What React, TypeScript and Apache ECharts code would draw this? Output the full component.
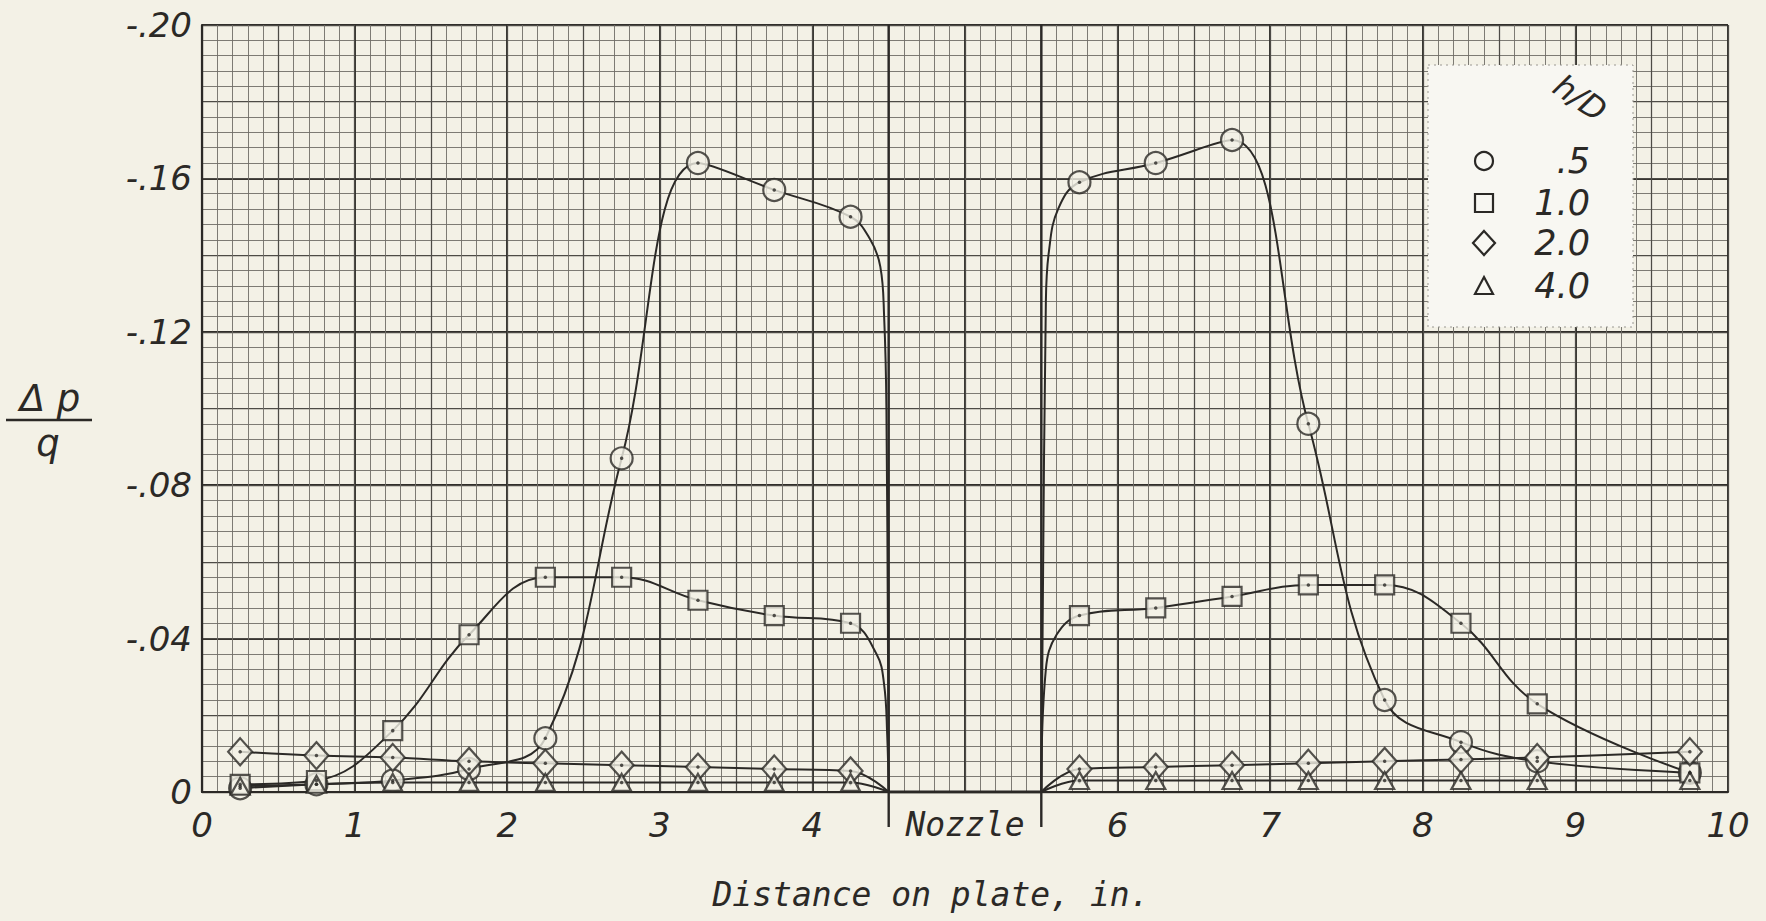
import { useEffect, useRef } from 'react';
import * as echarts from 'echarts';

// ---- data ----
const xLeft = [0.25, 0.75, 1.25, 1.75, 2.25, 2.75, 3.25, 3.75, 4.25];
const xRight = [5.75, 6.25, 6.75, 7.25, 7.75, 8.25, 8.75, 9.75];
const nozzleEdges = [4.5, 5.5];

const hd05Left = [-0.001, -0.002, -0.003, -0.006, -0.014, -0.087, -0.164, -0.157, -0.150];
const hd05Right = [-0.159, -0.164, -0.170, -0.096, -0.024, -0.013, -0.008, -0.005];
const hd10Left = [-0.002, -0.003, -0.016, -0.041, -0.056, -0.056, -0.050, -0.046, -0.044];
const hd10Right = [-0.046, -0.048, -0.051, -0.054, -0.054, -0.044, -0.023, -0.005];
const hd20Left = [-0.0105, -0.0095, -0.009, -0.008, -0.0075, -0.007, -0.0065, -0.006, -0.0055];
const hd20Right = [-0.006, -0.0065, -0.007, -0.0075, -0.008, -0.0085, -0.009, -0.0105];
const hd40Left = [-0.0015, -0.002, -0.0025, -0.0025, -0.0025, -0.0025, -0.0025, -0.0025, -0.0025];
const hd40Right = [-0.003, -0.003, -0.003, -0.003, -0.003, -0.003, -0.003, -0.003];

const hd05LeftEdgeX = [4.38, 4.445, 4.47, 4.485];
const hd05LeftEdgeY = [-0.144, -0.137, -0.124, -0.100];
const hd05RightEdgeX = [5.53, 5.55, 5.61];
const hd05RightEdgeY = [-0.128, -0.141, -0.152];
const hd10LeftEdgeX = [4.42, 4.47, 4.49];
const hd10LeftEdgeY = [-0.036, -0.028, -0.015];
const hd10RightEdgeX = [5.53, 5.6];
const hd10RightEdgeY = [-0.032, -0.041];

const legendLabels = ['.5', '1.0', '2.0', '4.0'];
const xTickValues = [0, 1, 2, 3, 4, 5, 6, 7, 8, 9, 10];
const xTickLabels = ['0', '1', '2', '3', '4', 'Nozzle', '6', '7', '8', '9', '10'];
const yTickValues = [-0.2, -0.16, -0.12, -0.08, -0.04, 0];
const yTickLabels = ['-.20', '-.16', '-.12', '-.08', '-.04', '0'];

// ---- styles ----
const PAPER = '#f3f1e6';
const INK = '#2b2926';
const NUM_FONT = '"DejaVu Sans"';
const LET_FONT = '"DejaVu Sans Mono"';

const zip = (xs: number[], ys: number[]) => xs.map((x, i) => [x, ys[i]]);

const groups = [
  { name: legendLabels[0], left: hd05Left, right: hd05Right, le: zip(hd05LeftEdgeX, hd05LeftEdgeY), re: zip(hd05RightEdgeX, hd05RightEdgeY), symbol: 'circle', size: 22 as any },
  { name: legendLabels[1], left: hd10Left, right: hd10Right, le: zip(hd10LeftEdgeX, hd10LeftEdgeY), re: zip(hd10RightEdgeX, hd10RightEdgeY), symbol: 'rect', size: 19 as any },
  { name: legendLabels[2], left: hd20Left, right: hd20Right, le: [], re: [], symbol: 'diamond', size: [24, 27] as any },
  { name: legendLabels[3], left: hd40Left, right: hd40Right, le: [], re: [], symbol: 'triangle', size: [19, 17] as any },
];

function pts(left: number[], right: number[]) {
  return [...zip(xLeft, left), ...zip(xRight, right)];
}
function curve(g: any) {
  return [
    ...zip(xLeft, g.left),
    ...g.le,
    [nozzleEdges[0], 0],
    [(nozzleEdges[0] + nozzleEdges[1]) / 2, '-'],
    [nozzleEdges[1], 0],
    ...g.re,
    ...zip(xRight, g.right),
  ];
}

function findLabel(v: number, vals: number[], labels: string[]) {
  for (let i = 0; i < vals.length; i++) if (Math.abs(v - vals[i]) < 1e-9) return labels[i];
  return '';
}

export default function App() {
  const ref = useRef<HTMLDivElement>(null);
  useEffect(() => {
    document.body.style.margin = '0';
    document.body.style.background = PAPER;
    const chart = echarts.init(ref.current!, null, { renderer: 'svg' });

    const series: any[] = [];
    groups.forEach((g) => {
      series.push({
        type: 'line', name: g.name, data: curve(g), showSymbol: false,
        smooth: 0.4, connectNulls: false,
        lineStyle: { color: INK, width: 2 }, z: 2, silent: true,
      });
    });
    series.push({
      type: 'line', name: 'nozzle', data: [[nozzleEdges[0], 0], [nozzleEdges[1], 0]],
      showSymbol: false, lineStyle: { color: INK, width: 3 }, z: 2, silent: true,
    });
    groups.forEach((g) => {
      series.push({
        type: 'scatter', name: g.name, data: pts(g.left, g.right), symbol: g.symbol,
        symbolSize: g.size, itemStyle: { color: PAPER, borderColor: INK, borderWidth: 2.2 }, z: 3,
      });
    });
    groups.forEach((g) => {
      series.push({
        type: 'scatter', name: g.name + ' dot', data: pts(g.left, g.right), symbol: 'circle',
        symbolSize: 3.5, itemStyle: { color: INK }, z: 4, silent: true,
      });
    });

    chart.setOption({
      animation: false,
      backgroundColor: PAPER,
      grid: { left: 202, top: 25, width: 1526, height: 767, containLabel: false },
      xAxis: [
        {
          type: 'value', min: 0, max: 10, interval: 1,
          axisLine: { show: true, lineStyle: { color: INK, width: 2.2 } },
          axisTick: { show: false },
          axisLabel: {
            margin: 16, color: INK, fontFamily: NUM_FONT, fontStyle: 'italic', fontSize: 34,
            formatter: (v: number) => {
              const s = findLabel(v, xTickValues, xTickLabels);
              return s === 'Nozzle' ? '{nz|Nozzle}' : s;
            },
            rich: { nz: { fontFamily: LET_FONT, fontStyle: 'italic', fontSize: 33, color: INK } },
          },
          splitLine: { show: true, lineStyle: { color: '#302e2a', width: 1.9 } },
          minorTick: { show: false, splitNumber: 10 },
          minorSplitLine: { show: true, lineStyle: { color: '#6f6d67', width: 0.9 } },
        },
        {
          type: 'value', min: 0, max: 10, interval: 0.5, position: 'bottom',
          axisLine: { show: false }, axisTick: { show: false }, axisLabel: { show: false },
          splitLine: { show: true, lineStyle: { color: '#4d4b46', width: 1.25 } },
        },
      ],
      yAxis: [
        {
          type: 'value', min: -0.2, max: 0, interval: 0.04, inverse: true,
          axisLine: { show: true, lineStyle: { color: INK, width: 2.2 } },
          axisTick: { show: false },
          axisLabel: {
            margin: 10, color: INK, fontFamily: NUM_FONT, fontStyle: 'italic', fontSize: 34,
            formatter: (v: number) => findLabel(v, yTickValues, yTickLabels),
          },
          splitLine: { show: true, lineStyle: { color: '#302e2a', width: 1.9 } },
          minorTick: { show: false, splitNumber: 10 },
          minorSplitLine: { show: true, lineStyle: { color: '#6f6d67', width: 0.9 } },
        },
        {
          type: 'value', min: -0.2, max: 0, interval: 0.02, inverse: true,
          axisLine: { show: false }, axisTick: { show: false }, axisLabel: { show: false },
          splitLine: { show: true, lineStyle: { color: '#4d4b46', width: 1.25 } },
        },
      ],
      series: series.map((s) => ({ ...s, xAxisIndex: 0, yAxisIndex: 0 })),
    });

    const px = (x: number) => chart.convertToPixel({ xAxisIndex: 0 }, x) as number;
    const py = (y: number) => chart.convertToPixel({ yAxisIndex: 0 }, y) as number;
    const yTop = py(-0.2);
    const yBase = py(0);

    const graphic: any[] = [];
    nozzleEdges.forEach((e) => {
      graphic.push({
        type: 'line', z: 5,
        shape: { x1: px(e), y1: yTop, x2: px(e), y2: yBase + 35 },
        style: { stroke: INK, lineWidth: 2.4 },
      });
    });

    // legend box
    const lx = 1428, ly = 65, lw = 205, lh = 262;
    graphic.push({
      type: 'rect', z: 6, shape: { x: lx, y: ly, width: lw, height: lh },
      style: { fill: '#f8f7f2', stroke: '#9a9892', lineWidth: 1, lineDash: [2, 4] },
    });
    graphic.push({
      type: 'text', z: 7, x: 1580, y: 98, rotation: -0.6,
      style: {
        text: 'h/D', fill: INK, font: `italic 32px ${NUM_FONT}`,
        align: 'center', verticalAlign: 'middle',
      },
    });
    const symX = 1484;
    const rowY = [161, 203, 243, 286];
    const symStyle = { fill: 'none', stroke: INK, lineWidth: 2.2 };
    graphic.push({ type: 'circle', z: 7, shape: { cx: symX, cy: rowY[0], r: 9 }, style: symStyle });
    graphic.push({ type: 'rect', z: 7, shape: { x: symX - 9, y: rowY[1] - 9, width: 18, height: 18 }, style: symStyle });
    graphic.push({
      type: 'polygon', z: 7,
      shape: { points: [[symX, rowY[2] - 12], [symX + 11, rowY[2]], [symX, rowY[2] + 12], [symX - 11, rowY[2]]] },
      style: symStyle,
    });
    graphic.push({
      type: 'polygon', z: 7,
      shape: { points: [[symX, rowY[3] - 9], [symX + 9, rowY[3] + 8], [symX - 9, rowY[3] + 8]] },
      style: symStyle,
    });
    legendLabels.forEach((t, i) => {
      graphic.push({
        type: 'text', z: 7, x: 1590, y: rowY[i],
        style: { text: t, fill: INK, font: `italic 35px ${NUM_FONT}`, align: 'right', verticalAlign: 'middle' },
      });
    });

    // axis titles
    graphic.push({
      type: 'text', z: 7, x: 931, y: 894,
      style: {
        text: 'Distance on plate, in.', fill: INK, font: `italic 33px ${LET_FONT}`,
        align: 'center', verticalAlign: 'middle',
      },
    });
    graphic.push({
      type: 'text', z: 7, x: 50, y: 398,
      style: { text: 'Δ p', fill: INK, font: `italic 37px ${NUM_FONT}`, align: 'center', verticalAlign: 'middle' },
    });
    graphic.push({
      type: 'line', z: 7, shape: { x1: 6, y1: 420, x2: 92, y2: 420 },
      style: { stroke: INK, lineWidth: 2.5 },
    });
    graphic.push({
      type: 'text', z: 7, x: 48, y: 443,
      style: { text: 'q', fill: INK, font: `italic 37px ${NUM_FONT}`, align: 'center', verticalAlign: 'middle' },
    });

    chart.setOption({ graphic });
    return () => chart.dispose();
  }, []);
  return <div ref={ref} style={{ width: 1766, height: 921 }} />;
}
